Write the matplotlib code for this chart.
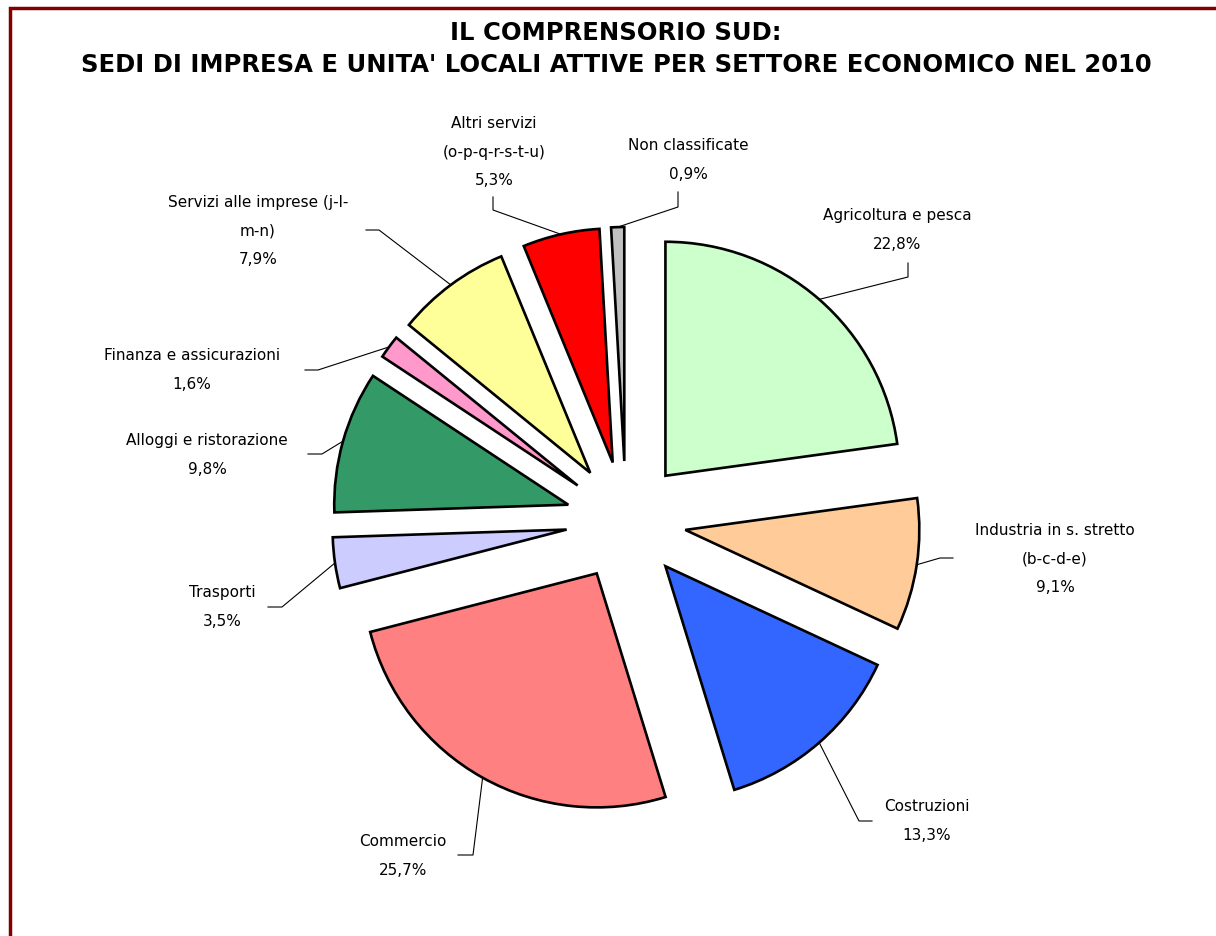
import matplotlib
matplotlib.use("Agg")
import matplotlib.pyplot as plt
import numpy as np

W, H = 1216, 936

sectors = ["Agricoltura e pesca", "Industria in s. stretto\n(b-c-d-e)", "Costruzioni",
           "Commercio", "Trasporti", "Alloggi e ristorazione", "Finanza e assicurazioni",
           "Servizi alle imprese (j-l-\nm-n)", "Altri servizi\n(o-p-q-r-s-t-u)", "Non classificate"]
shares = [22.8, 9.1, 13.3, 25.7, 3.5, 9.8, 1.6, 7.9, 5.3, 0.9]
colors = ["#CCFFCC", "#FFCC99", "#3366FF", "#FF8080", "#CCCCFF",
          "#339966", "#FF99CC", "#FFFF99", "#FF0000", "#C0C0C0"]

# label placement (image pixels): text centre and leader elbow/end points
text_pos = [(897, 230), (1055, 559), (927, 821), (403, 856), (222, 607),
            (207, 455), (192, 370), (258, 231), (494, 152), (688, 160)]
leader = [[(908, 277), (908, 263)], [(940, 558), (953, 558)], [(859, 821), (872, 821)],
          [(473, 855), (458, 855)], [(282, 607), (268, 607)], [(322, 454), (308, 454)],
          [(318, 370), (305, 370)], [(379, 230), (366, 230)], [(493, 210), (493, 197)],
          [(678, 207), (678, 192)]]

fig = plt.figure(figsize=(W / 100, H / 100), dpi=100)
ax = fig.add_axes([0, 0, 1, 1])

cx, cy, r = 626, H - 521, 234
wedges, _ = ax.pie(shares, colors=colors, startangle=90, counterclock=False,
                   center=(cx, cy), radius=r, explode=[60] * len(shares),
                   wedgeprops=dict(edgecolor="black", linewidth=1.9))
ax.set_xlim(0, W)
ax.set_ylim(0, H)
ax.set_aspect("equal")
ax.axis("off")

for w, name, v, (tx, ty), pts in zip(wedges, sectors, shares, text_pos, leader):
    ang = np.deg2rad((w.theta1 + w.theta2) / 2)
    x0 = w.center[0] + w.r * np.cos(ang)
    y0 = w.center[1] + w.r * np.sin(ang)
    xs = [x0] + [p[0] for p in pts]
    ys = [y0] + [H - p[1] for p in pts]
    ax.plot(xs, ys, color="black", lw=0.8)
    pct = f"{v:.1f}".replace(".", ",") + "%"
    ax.text(tx, H - ty, name + "\n" + pct, ha="center", va="center",
            fontsize=11, linespacing=2.1, color="black")

ax.text(616, H - 33, "IL COMPRENSORIO SUD:", ha="center", va="center",
        fontsize=17.5, fontweight="bold")
ax.text(616, H - 65, "SEDI DI IMPRESA E UNITA' LOCALI ATTIVE PER SETTORE ECONOMICO NEL 2010",
        ha="center", va="center", fontsize=17.5, fontweight="bold")

# dark red chart frame (right and bottom sides fall outside the picture)
ax.plot([9.5, 9.5, W + 10], [-10, H - 7.5, H - 7.5], color="#800000", lw=2.5,
        clip_on=False, solid_joinstyle="miter")

fig.savefig("out.png", dpi=100)
